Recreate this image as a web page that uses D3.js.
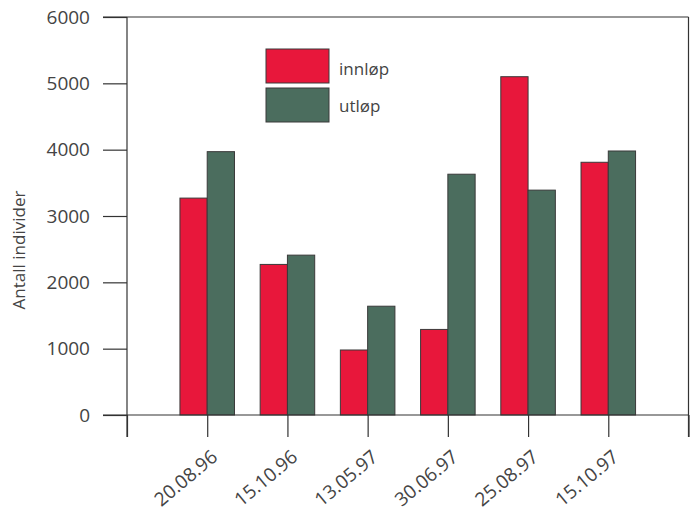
<!DOCTYPE html>
<html>
<head>
<meta charset="utf-8">
<script src="https://cdn.jsdelivr.net/npm/d3@7"></script>
<style>
  html, body { margin: 0; padding: 0; background: #fff; }
  svg { display: block; }
  text { font-family: "Open Sans", "Noto Sans", sans-serif; fill: #444; font-weight: 400; }
</style>
</head>
<body>
<svg id="chart" width="690" height="511"></svg>
<script>
const categories = ["20.08.96", "15.10.96", "13.05.97", "30.06.97", "25.08.97", "15.10.97"];
const innlop = [3270, 2270, 980, 1290, 5100, 3810];
const utlop  = [3970, 2410, 1640, 3630, 3390, 3980];
const seriesNames = ["innløp", "utløp"];
const yTicks = [0, 1000, 2000, 3000, 4000, 5000, 6000];

const colors = ["#e8173b", "#4b6d5e"];
const svg = d3.select("#chart");

const mLeft = 127, mRight = 688.5, mTop = 17, mBottom = 415;
const x = d3.scaleLinear().domain([0, categories.length + 1]).range([mLeft, mRight]);
const y = d3.scaleLinear().domain([0, 6000]).range([mBottom, mTop]);
const halfW = 0.34;

// bars
const data = categories.map((c, i) => ({ c, i, vals: [innlop[i], utlop[i]] }));
const g = svg.append("g");
data.forEach(d => {
  d.vals.forEach((v, s) => {
    const cx = x(d.i + 1);
    const x0 = s === 0 ? x(d.i + 1 - halfW) : cx;
    const x1 = s === 0 ? cx : x(d.i + 1 + halfW);
    g.append("rect")
      .attr("x", x0).attr("y", y(v))
      .attr("width", x1 - x0).attr("height", y(0) - y(v))
      .attr("fill", colors[s])
      .attr("stroke", "#3a3a3a").attr("stroke-width", 1);
  });
});

// y axis
const yAxis = d3.axisLeft(y).tickValues(yTicks).tickSize(24).tickPadding(13).tickFormat(d3.format("d"));
const ya = svg.append("g").attr("transform", `translate(${mLeft},0)`).call(yAxis);
ya.select(".domain").remove();
ya.selectAll(".tick line").attr("stroke", "#333").attr("stroke-width", 1.2);
ya.selectAll(".tick text").style("font-size", "19px").attr("fill", "#444");

// x axis
const xAxis = d3.axisBottom(x).tickValues(d3.range(0, categories.length + 2)).tickSize(22)
  .tickFormat(i => (i >= 1 && i <= categories.length) ? categories[i - 1] : "");
const xa = svg.append("g").attr("transform", `translate(0,${mBottom})`).call(xAxis);
xa.select(".domain").remove();
xa.selectAll(".tick line").attr("stroke", "#333").attr("stroke-width", 1.2);
xa.selectAll(".tick text")
  .style("font-size", "19px").attr("fill", "#444")
  .attr("text-anchor", "end")
  .attr("dy", 0)
  .attr("transform", "translate(11,44) rotate(-40)")
  .attr("y", 0).attr("x", 0);

// frame lines
const lineC = "#333";
svg.append("line").attr("x1", 103).attr("x2", mRight).attr("y1", y(0)).attr("y2", y(0)).attr("stroke", lineC).attr("stroke-width", 1.2);
svg.append("line").attr("x1", 103).attr("x2", mRight).attr("y1", y(6000)).attr("y2", y(6000)).attr("stroke", lineC).attr("stroke-width", 1.2);
svg.append("line").attr("x1", mLeft).attr("x2", mLeft).attr("y1", y(6000)).attr("y2", mBottom + 22).attr("stroke", lineC).attr("stroke-width", 1.2);
svg.append("line").attr("x1", mRight).attr("x2", mRight).attr("y1", y(6000)).attr("y2", mBottom + 22).attr("stroke", lineC).attr("stroke-width", 1.2);

// y label
svg.append("text")
  .attr("transform", "translate(25,250) rotate(-90)")
  .attr("text-anchor", "middle")
  .style("font-size", "17px")
  .text("Antall individer");

// legend
const leg = svg.append("g");
seriesNames.forEach((n, s) => {
  leg.append("rect").attr("x", 266).attr("y", 49 + s * 39).attr("width", 63).attr("height", 34)
    .attr("fill", colors[s]).attr("stroke", "#3a3a3a").attr("stroke-width", 1);
  leg.append("text").attr("x", 339).attr("y", 75 + s * 37).style("font-size", "17px").text(n);
});
</script>
</body>
</html>
